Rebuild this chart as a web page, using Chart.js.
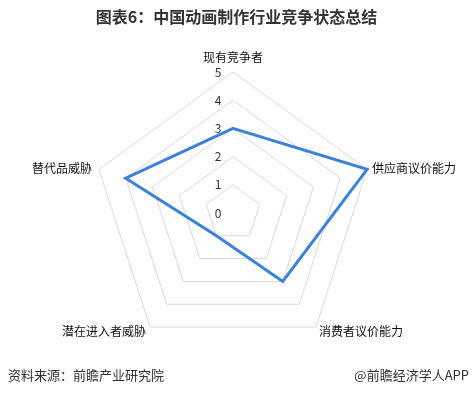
<!DOCTYPE html>
<html lang="zh">
<head>
    <meta charset="UTF-8">
    <title>中国动画制作行业竞争状态总结</title>
    <script src="https://cdn.jsdelivr.net/npm/chart.js"></script>
    <style>
        body {
            margin: 0;
            width: 473px;
            height: 405px;
            background: #fff;
            font-family: 'Noto Sans CJK SC', sans-serif;
            position: relative;
            overflow: hidden;
        }
        .titulo {
            position: absolute;
            top: 5px;
            left: 0;
            width: 473px;
            text-align: center;
            font-size: 16px;
            font-weight: bold;
            color: #333;
            line-height: 22px;
        }
        .chart-box {
            position: absolute;
            left: 0;
            top: 0;
            width: 473px;
            height: 405px;
        }
        .fuente {
            position: absolute;
            top: 366px;
            left: 8px;
            font-size: 13px;
            color: #333;
            line-height: 18px;
        }
        .app {
            position: absolute;
            top: 366px;
            right: 4px;
            font-size: 13px;
            color: #333;
            line-height: 18px;
        }
    </style>
</head>
<body>
    <div class="chart-box"><canvas id="radarChart"></canvas></div>
    <div class="titulo">图表6：中国动画制作行业竞争状态总结</div>
    <div class="fuente">资料来源：前瞻产业研究院</div>
    <div class="app">@前瞻经济学人APP</div>

    <script>
        // datos
        var categorias = ['现有竞争者', '供应商议价能力', '消费者议价能力', '潜在进入者威胁', '替代品威胁'];
        var valores = [3, 5, 3, 1, 4];
        var ticks = [0, 1, 2, 3, 4, 5];

        // etiquetas de escala a la izquierda del eje y etiquetas de los vértices
        var etiquetas = {
            id: 'etiquetas',
            afterDraw: function(chart) {
                var scale = chart.scales.r;
                var ctx = chart.ctx;
                ctx.save();
                ctx.font = '12px "Noto Sans CJK SC", sans-serif';
                ctx.fillStyle = '#333';
                ctx.textAlign = 'center';
                ctx.textBaseline = 'middle';
                for (var i = 0; i < ticks.length; i++) {
                    var d = scale.getDistanceFromCenterForValue(ticks[i]);
                    ctx.fillText(String(ticks[i]), scale.xCenter - 15, scale.yCenter - d);
                }

                ctx.fillStyle = '#111';
                var rMax = scale.getDistanceFromCenterForValue(scale.max);
                for (var j = 0; j < categorias.length; j++) {
                    var p = scale.getPointPosition(j, rMax);
                    var x = p.x, y = p.y;
                    if (Math.abs(p.x - scale.xCenter) < 1) {
                        ctx.textAlign = 'center';
                        y = p.y - 15;
                    } else if (p.x > scale.xCenter) {
                        ctx.textAlign = 'left';
                        x = p.y < scale.yCenter ? p.x + 5 : p.x + 3;
                        y = p.y < scale.yCenter ? p.y - 1 : p.y + 4;
                    } else {
                        ctx.textAlign = 'right';
                        x = p.y < scale.yCenter ? p.x - 7 : p.x - 4;
                        y = p.y < scale.yCenter ? p.y - 1 : p.y + 4;
                    }
                    ctx.fillText(categorias[j], x, y);
                }
                ctx.restore();
            }
        };

        var ctx = document.getElementById('radarChart').getContext('2d');
        var radarChart = new Chart(ctx, {
            type: 'radar',
            data: {
                labels: categorias,
                datasets: [{
                    data: valores,
                    fill: false,
                    borderColor: '#3a80dc',
                    borderWidth: 3,
                    pointRadius: 0,
                    pointHoverRadius: 0,
                    tension: 0
                }]
            },
            options: {
                responsive: true,
                maintainAspectRatio: false,
                animation: false,
                layout: {
                    padding: { left: 0, right: 7, top: 72, bottom: 51 }
                },
                plugins: {
                    legend: { display: false },
                    tooltip: { enabled: false }
                },
                scales: {
                    r: {
                        min: 0,
                        max: 5,
                        ticks: { display: false, stepSize: 1 },
                        angleLines: { display: false },
                        grid: { color: '#d9d9d9', lineWidth: 1 },
                        pointLabels: { display: false }
                    }
                }
            },
            plugins: [etiquetas]
        });
    </script>
</body>
</html>
